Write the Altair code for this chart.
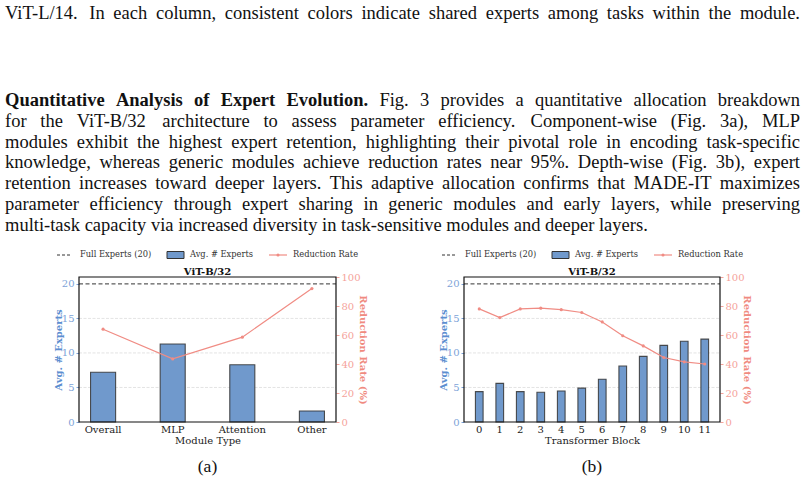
import altair as alt
import pandas as pd

# ---- figure data -------------------------------------------------------
modules = ["Overall", "MLP", "Attention", "Other"]
module_experts = [7.2, 11.3, 8.3, 1.6]
module_reduction = [64.0, 43.5, 58.5, 92.0]

blocks = ["0", "1", "2", "3", "4", "5", "6", "7", "8", "9", "10", "11"]
block_experts = [4.4, 5.6, 4.4, 4.3, 4.5, 4.9, 6.2, 8.1, 9.5, 11.1, 11.7, 12.0]
block_reduction = [78.0, 72.0, 78.0, 78.5, 77.5, 75.5, 69.0, 59.5, 52.5, 44.5, 41.5, 40.0]

full_experts = [20]
expert_ticks = [0, 5, 10, 15, 20]
grid_ticks = [5, 10, 15]
rate_ticks = [0, 20, 40, 60, 80, 100]

legend_labels = ["Full Experts (20)", "Avg. # Experts", "Reduction Rate"]
panel_title = "ViT-B/32"

caption_tail = "ViT-L/14. In each column, consistent colors indicate shared experts among tasks within the module."
para_head = "Quantitative Analysis of Expert Evolution."
para_lines = [
    "Fig. 3 provides a quantitative allocation breakdown",
    "for the ViT-B/32 architecture to assess parameter efficiency. Component-wise (Fig. 3a), MLP",
    "modules exhibit the highest expert retention, highlighting their pivotal role in encoding task-specific",
    "knowledge, whereas generic modules achieve reduction rates near 95%. Depth-wise (Fig. 3b), expert",
    "retention increases toward deeper layers. This adaptive allocation confirms that MADE-IT maximizes",
    "parameter efficiency through expert sharing in generic modules and early layers, while preserving",
    "multi-task capacity via increased diversity in task-sensitive modules and deeper layers.",
]

# ---- page geometry -----------------------------------------------------
W, H = 805, 481
TOP, BOTTOM = 277, 422
SERIF = "DejaVu Serif"
PAGE = "Liberation Serif"
PAGE_SIZE = 18.5
TEXT_LEFT, TEXT_RIGHT = 5, 800
BAR_FILL = "#7099CC"
LINE_COLOR = "#F08C84"
BLUE_LABEL = "#7DA3D8"
BLUE_TITLE = "#5C8ED0"
RED_LABEL = "#F5A39B"
RED_TITLE = "#F08A80"

# Times-compatible advance widths (1/1000 em) used to justify the text block
_regular = dict(zip(
    " !\"#$%&'()*+,-./0123456789:;<=>?@ABCDEFGHIJKLMNOPQRSTUVWXYZ[\\]^_`abcdefghijklmnopqrstuvwxyz",
    [250, 333, 408, 500, 500, 833, 778, 180, 333, 333, 500, 564, 250, 333, 250, 278,
     500, 500, 500, 500, 500, 500, 500, 500, 500, 500, 278, 278, 564, 564, 564, 444, 921,
     722, 667, 667, 722, 611, 556, 722, 722, 333, 389, 722, 611, 889, 722, 722, 556, 722,
     667, 556, 611, 722, 722, 944, 722, 722, 611, 333, 278, 333, 469, 500, 333,
     444, 500, 444, 500, 444, 333, 500, 500, 278, 278, 500, 278, 778, 500, 500, 500, 500,
     333, 389, 278, 500, 500, 722, 500, 500, 444]))
_bold = dict(_regular)
_bold.update({"A": 722, "E": 667, "Q": 778, "a": 500, "e": 444, "f": 333, "i": 278,
              "l": 278, "n": 556, "o": 500, "p": 556, "r": 444, "s": 389, "t": 333,
              "u": 556, "v": 500, "x": 500, "y": 500, ".": 250, " ": 250})


def word_width(word, bold=False):
    table = _bold if bold else _regular
    return sum(table.get(c, 500) for c in word) / 1000 * PAGE_SIZE


def justify(segments, baseline, stretch=True):
    """segments: list of (text, bold). Returns rows of word placements."""
    words = []
    for txt, bold in segments:
        words += [(w, bold) for w in txt.split()]
    widths = [word_width(w, b) for w, b in words]
    space = _regular[" "] / 1000 * PAGE_SIZE
    if stretch and len(words) > 1:
        space = (TEXT_RIGHT - TEXT_LEFT - sum(widths)) / (len(words) - 1)
    rows, x = [], TEXT_LEFT
    for (w, b), wd in zip(words, widths):
        rows.append({"word": w, "px": x, "py": baseline, "bold": b})
        x += wd + space
    return rows


rows = justify([(caption_tail, False)], 19)
rows += justify([(para_head, True), (para_lines[0], False)], 106)
for i, line in enumerate(para_lines[1:]):
    last = i == len(para_lines) - 2
    rows += justify([(line, False)], 127 + i * 20.7, stretch=not last)
page_words = pd.DataFrame(rows)

one = pd.DataFrame({"k": [0]})


def page_layer(bold):
    return alt.Chart(page_words[page_words["bold"] == bold]).mark_text(
        font=PAGE, fontSize=PAGE_SIZE, fontWeight="bold" if bold else "normal",
        align="left", baseline="alphabetic", color="#111111",
    ).encode(
        x=alt.X("px:Q", scale=None), y=alt.Y("py:Q", scale=None), text="word:N"
    )


def text_at(txt, x, y, size, font=PAGE, weight="normal", align="left",
            baseline="alphabetic", color="#111111"):
    return alt.Chart(one).mark_text(
        text=txt, font=font, fontSize=size, fontWeight=weight, align=align,
        baseline=baseline, color=color,
    ).encode(x=alt.value(x), y=alt.value(y))


def panel(cats, experts, reduction, x_title, x0, x1, pad_in, pad_out, caption):
    df = pd.DataFrame({"cat": cats, "experts": experts, "reduction": reduction})
    mid = (TOP + BOTTOM) / 2

    x_enc = alt.X(
        "cat:N", sort=cats,
        scale=alt.Scale(domain=cats, range=[x0, x1], paddingInner=pad_in, paddingOuter=pad_out),
        axis=alt.Axis(
            orient="bottom", offset=BOTTOM - H, title=x_title, labelAngle=0,
            ticks=False, domain=False, grid=False, labelFont=SERIF, labelFontSize=10,
            labelColor="#222222", labelPadding=2, titleFont=SERIF, titleFontSize=10,
            titleFontWeight="normal", titleColor="#222222", titlePadding=1,
        ),
    )
    left_scale = alt.Scale(domain=[0, 21], range=[BOTTOM, TOP], nice=False, zero=True)
    left_axis = alt.Axis(
        orient="left", offset=-x0, values=expert_ticks, title="Avg. # Experts",
        grid=False, domain=False, tickSize=3, tickColor=BLUE_LABEL,
        labelFont=SERIF, labelFontSize=10, labelColor=BLUE_LABEL, labelPadding=2,
        titleFont=SERIF, titleFontSize=10, titleFontWeight="bold", titleColor=BLUE_TITLE,
        titleX=-21, titleY=mid, titleAngle=270, titleBaseline="middle", titleAlign="center",
    )
    y_left = alt.Y("experts:Q", scale=left_scale, axis=left_axis)

    grid = alt.Chart(pd.DataFrame({"experts": grid_ticks})).mark_rule(
        color="#dcdcdc", strokeWidth=0.8, strokeDash=[3, 1.5]
    ).encode(y=y_left, x=alt.value(x0), x2=alt.value(x1))

    bars = alt.Chart(df).mark_bar(
        fill=BAR_FILL, stroke="#333333", strokeWidth=1.1, strokeOpacity=0.85
    ).encode(x=x_enc, y=y_left)

    full = alt.Chart(pd.DataFrame({"experts": full_experts})).mark_rule(
        color="#333333", strokeWidth=1, strokeDash=[4, 2.5]
    ).encode(y=y_left, x=alt.value(x0), x2=alt.value(x1))

    left_group = alt.layer(grid, bars, full)

    y_right = alt.Y(
        "reduction:Q",
        scale=alt.Scale(domain=[0, 100], range=[BOTTOM, TOP], nice=False),
        axis=alt.Axis(
            orient="right", offset=x1 - W, values=rate_ticks, title="Reduction Rate (%)",
            grid=False, domain=False, tickSize=3, tickColor=RED_LABEL,
            labelFont=SERIF, labelFontSize=10, labelColor=RED_LABEL, labelPadding=2,
            titleFont=SERIF, titleFontSize=10, titleFontWeight="bold", titleColor=RED_TITLE,
            titleX=26, titleY=mid, titleAngle=90, titleBaseline="middle", titleAlign="center",
        ),
    )
    rate = alt.Chart(df).mark_line(
        color=LINE_COLOR, strokeWidth=1.2,
        point=alt.OverlayMarkDef(filled=True, color=LINE_COLOR, size=10),
    ).encode(x=x_enc, y=y_right)

    chart = alt.layer(left_group, rate).resolve_scale(y="independent")

    # plot frame
    frame = alt.Chart(one).mark_rect(
        fillOpacity=0, stroke="#111111", strokeWidth=1.2
    ).encode(x=alt.value(x0), x2=alt.value(x1), y=alt.value(TOP), y2=alt.value(BOTTOM))

    # legend row above the panel
    lx = x0 - 22
    ly = 255
    leg = [
        alt.Chart(one).mark_rule(color="#333333", strokeWidth=1, strokeDash=[3, 2]).encode(
            x=alt.value(lx), x2=alt.value(lx + 15), y=alt.value(ly)),
        text_at(legend_labels[0], lx + 23, ly, 8.3, font=SERIF, baseline="middle", color="#333333"),
        alt.Chart(one).mark_rect(fill=BAR_FILL, stroke="#333333", strokeWidth=1).encode(
            x=alt.value(lx + 110), x2=alt.value(lx + 127), y=alt.value(ly - 3.5), y2=alt.value(ly + 3.5)),
        text_at(legend_labels[1], lx + 133, ly, 8.3, font=SERIF, baseline="middle", color="#333333"),
        alt.Chart(one).mark_rule(color=LINE_COLOR, strokeWidth=1.2).encode(
            x=alt.value(lx + 212), x2=alt.value(lx + 230), y=alt.value(ly)),
        alt.Chart(one).mark_point(filled=True, color=LINE_COLOR, size=10, opacity=1).encode(
            x=alt.value(lx + 221), y=alt.value(ly)),
        text_at(legend_labels[2], lx + 236, ly, 8.3, font=SERIF, baseline="middle", color="#333333"),
    ]
    title = text_at(panel_title, (x0 + x1) / 2, 272, 10, font=SERIF, weight="bold",
                    align="center", baseline="middle", color="#111111")
    cap = text_at(caption, (x0 + x1) / 2, 472, 17.5, align="center")
    return [chart, frame, title, cap] + leg


left = panel(modules, module_experts, module_reduction, "Module Type",
             79, 336, 0.64, 0.166, "(a)")
right = panel(blocks, block_experts, block_reduction, "Transformer Block",
              464, 720, 0.625, 0.557, "(b)")

chart = alt.layer(page_layer(True), page_layer(False), *left, *right).resolve_scale(
    x="independent", y="independent"
).properties(
    width=W, height=H, autosize=alt.AutoSizeParams(type="none"), padding=0,
    background="white",
).configure_view(stroke=None)

chart.save("out.html", embed_options={"renderer": "svg", "actions": False})
